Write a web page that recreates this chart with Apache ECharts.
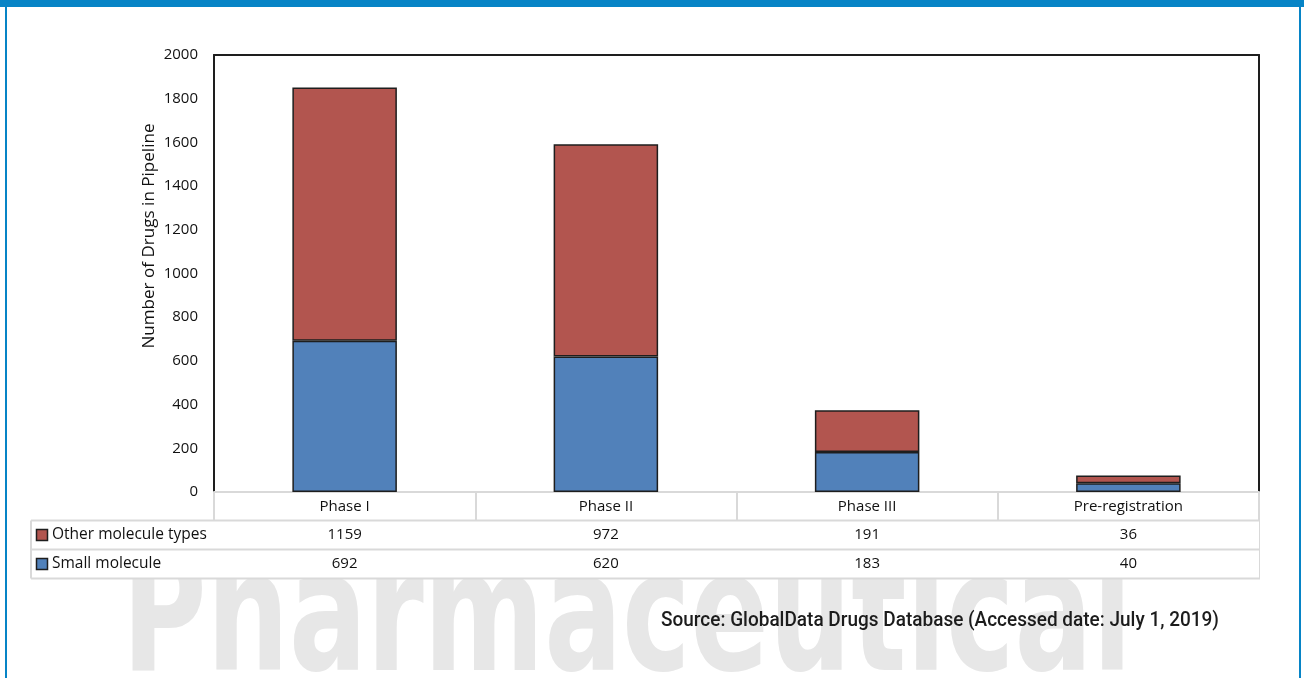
<!DOCTYPE html>
<html><head><meta charset="utf-8">
<script src="https://cdn.jsdelivr.net/npm/echarts@6/dist/echarts.min.js"></script>
<style>html,body{margin:0;padding:0;background:#fff}#c{width:1304px;height:678px}</style>
</head><body><div id="c"></div>
<script>
const categories = ['Phase I', 'Phase II', 'Phase III', 'Pre-registration'];
const otherMolecule = [1159, 972, 191, 36];
const smallMolecule = [692, 620, 183, 40];
const seriesNames = ['Other molecule types', 'Small molecule'];
const yAxisTitle = 'Number of Drugs in Pipeline';
const sourceNote = 'Source: GlobalData Drugs Database (Accessed date: July 1, 2019)';
const watermarkText = 'Pharmaceutical';

const RED = '#B2554F', BLUE = '#5181BA', EDGE = '#1e1e1e', GRIDC = '#d9d9d9', FRAME = '#0784C6';
const FONT = '"Open Sans", sans-serif';

const chart = echarts.init(document.getElementById('c'), null, {renderer: 'canvas'});
chart.setOption({
  animation: false,
  grid: {left: 214, right: 45, top: 55, bottom: 186},
  xAxis: [
    {type: 'category', data: categories, position: 'bottom',
     axisLine: {onZero: false, lineStyle: {color: GRIDC, width: 2}},
     axisTick: {show: true, interval: 0, length: 86, lineStyle: {color: GRIDC, width: 2}},
     axisLabel: {color: '#111', fontSize: 15, fontFamily: FONT, margin: 7, interval: 0}},
    {type: 'category', data: categories, position: 'top',
     axisLine: {onZero: false, lineStyle: {color: EDGE, width: 2}},
     axisTick: {show: false}, axisLabel: {show: false}}
  ],
  yAxis: [
    {type: 'value', min: 0, max: 2000, interval: 200,
     axisLine: {show: true, onZero: false, lineStyle: {color: EDGE, width: 2}},
     axisTick: {show: false}, splitLine: {show: false},
     axisLabel: {color: '#111', fontSize: 15, fontFamily: FONT, margin: 16, formatter: v => String(v)}},
    {type: 'value', min: 0, max: 2000, interval: 200, position: 'right',
     axisLine: {show: true, onZero: false, lineStyle: {color: EDGE, width: 2}},
     axisTick: {show: false}, splitLine: {show: false}, axisLabel: {show: false}}
  ],
  series: [
    {name: seriesNames[1], type: 'bar', stack: 't', data: smallMolecule, barWidth: '40%',
     itemStyle: {color: BLUE, borderColor: EDGE, borderWidth: 1.5}},
    {name: seriesNames[0], type: 'bar', stack: 't', data: otherMolecule, barWidth: '40%',
     itemStyle: {color: RED, borderColor: EDGE, borderWidth: 1.5}}
  ]
});

function measure(text, font) {
  const ctx = document.createElement('canvas').getContext('2d');
  ctx.font = font;
  return ctx.measureText(text).width;
}

function build() {
  const c0 = chart.convertToPixel({xAxisIndex: 0}, categories[0]);
  const c1 = chart.convertToPixel({xAxisIndex: 0}, categories[1]);
  const band = c1 - c0;
  const left = c0 - band / 2;
  const right = left + band * categories.length;
  const y0 = chart.convertToPixel({yAxisIndex: 0}, 0);
  const tableLeft = 31;
  const r1 = y0 + 28.5, r2 = r1 + 29, r3 = r2 + 29;
  const els = [];
  const lineStyle = {stroke: GRIDC, lineWidth: 2};

  // watermark
  const wmFont = 'bold 140px "DejaVu Sans"';
  const wmW = measure(watermarkText, wmFont);
  els.push({type: 'text', x: 122, y: 687, scaleX: 1010 / wmW, scaleY: 1.2, z: 0,
    style: {text: watermarkText, x: 0, y: -0.36 * 140, fill: '#e7e7e7', font: wmFont, align: 'left', verticalAlign: 'middle'}});
  // table background
  els.push({type: 'rect', z: 1, shape: {x: tableLeft, y: r1, width: right - tableLeft, height: r3 - r1}, style: {fill: '#fff'}});
  // horizontal lines
  [r1, r2, r3].forEach(y => els.push({type: 'line', z: 2, shape: {x1: tableLeft, y1: y, x2: right + 1, y2: y}, style: lineStyle}));
  els.push({type: 'line', z: 2, shape: {x1: tableLeft, y1: r1, x2: tableLeft, y2: r3}, style: lineStyle});
  // rows
  const rows = [[seriesNames[0], otherMolecule, RED], [seriesNames[1], smallMolecule, BLUE]];
  rows.forEach((row, i) => {
    const cy = (i === 0 ? (r1 + r2) / 2 : (r2 + r3) / 2);
    els.push({type: 'rect', z: 3, shape: {x: 36.5, y: cy - 5.5, width: 11, height: 11},
      style: {fill: row[2], stroke: EDGE, lineWidth: 1.5}});
    els.push({type: 'text', z: 3, x: 52, y: cy,
      style: {text: row[0], fill: '#111', font: '15.5px ' + FONT, align: 'left', verticalAlign: 'middle'}});
    row[1].forEach((v, j) => {
      const cx = chart.convertToPixel({xAxisIndex: 0}, categories[j]);
      els.push({type: 'text', z: 3, x: cx, y: cy,
        style: {text: String(v), fill: '#111', font: '15px ' + FONT, align: 'center', verticalAlign: 'middle'}});
    });
  });
  // y axis title
  const ytFont = '16px ' + FONT;
  const ytW = measure(yAxisTitle, ytFont);
  els.push({type: 'text', z: 3, x: 149, y: 236, rotation: Math.PI / 2, scaleX: 225 / ytW,
    style: {text: yAxisTitle, x: 0, y: 0, fill: '#111', font: ytFont, align: 'center', verticalAlign: 'middle'}});
  // source
  const srcFont = '500 21px Roboto';
  const srcW = measure(sourceNote, srcFont);
  els.push({type: 'text', z: 3, x: 661, y: 621, scaleX: 558 / srcW,
    style: {text: sourceNote, x: 0, y: 0, fill: '#1c1c1c', font: srcFont, align: 'left', verticalAlign: 'middle'}});
  // frame
  els.push({type: 'rect', z: 5, shape: {x: 0, y: 0, width: 1304, height: 7}, style: {fill: FRAME}});
  els.push({type: 'rect', z: 5, shape: {x: 5, y: 0, width: 2, height: 678}, style: {fill: FRAME}});
  els.push({type: 'rect', z: 5, shape: {x: 1299, y: 0, width: 2, height: 678}, style: {fill: FRAME}});

  chart.setOption({graphic: {elements: els}});
}
build();
</script>
</body></html>
